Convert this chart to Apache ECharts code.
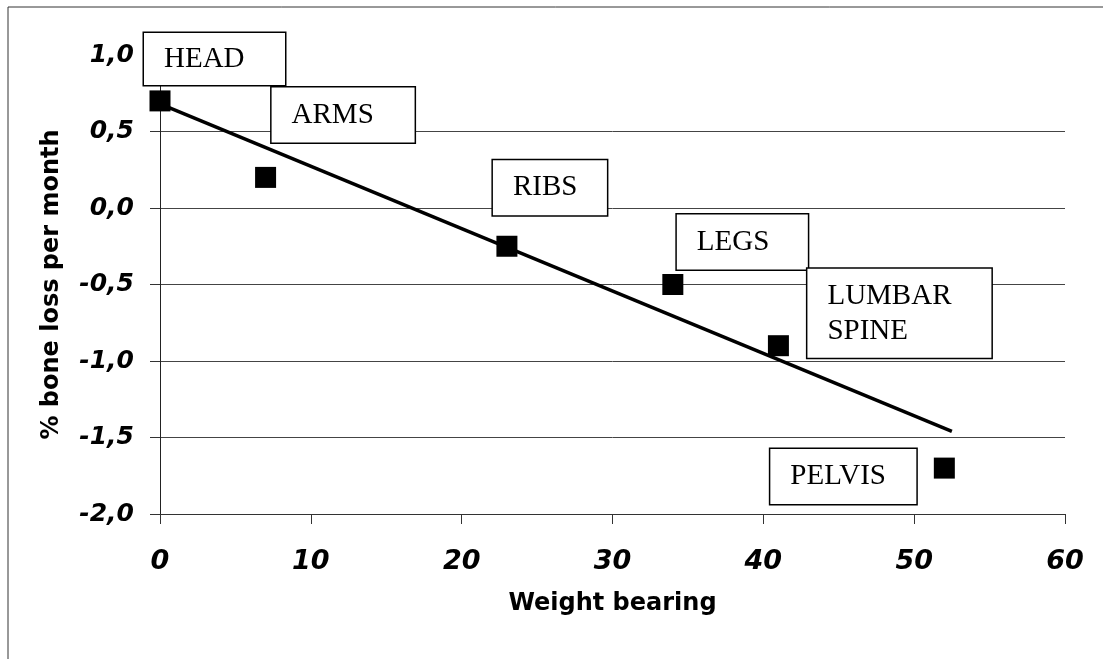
<!DOCTYPE html>
<html>
<head>
<meta charset="utf-8">
<script src="https://cdn.jsdelivr.net/npm/echarts@6/dist/echarts.min.js"></script>
<style>
html,body{margin:0;padding:0;background:#fff;}
#c{width:1103px;height:659px;}
</style>
</head>
<body>
<div id="c"></div>
<script>
// ---- data ----
var regions = ['HEAD', 'ARMS', 'RIBS', 'LEGS', 'LUMBAR\nSPINE', 'PELVIS'];
var weightBearing = [0, 7, 23, 34, 41, 52];
var boneLoss = [0.7, 0.2, -0.25, -0.5, -0.9, -1.7];
var trendX = [0, 52.5];
var trendY = [0.68, -1.46];
var xTicks = [0, 10, 20, 30, 40, 50, 60];
var yTicks = [-2.0, -1.5, -1.0, -0.5, 0.0, 0.5, 1.0];

// ---- label box layout (offset of box top-left from point centre, box size) ----
var labelBoxes = [
  {dx: -16, dy: -68, w: 141, h: 52},
  {dx: 6,   dy: -90, w: 143, h: 55},
  {dx: -14, dy: -86, w: 114, h: 55},
  {dx: 4,   dy: -70, w: 131, h: 55},
  {dx: 29,  dy: -77, w: 184, h: 89, multi: true},
  {dx: -174,dy: -19, w: 146, h: 55}
];

var SYM = 21;
var scatterData = weightBearing.map(function (x, i) {
  var b = labelBoxes[i];
  var lab = {
    show: true,
    formatter: regions[i],
    position: [b.dx + SYM / 2, b.dy + SYM / 2],
    align: 'left',
    verticalAlign: 'top',
    fontFamily: 'Liberation Serif',
    fontSize: 29,
    color: '#000',
    opacity: 1,
    backgroundColor: '#fff',
    borderColor: '#000',
    borderWidth: 1.5,
    textBorderWidth: 0,
    width: b.w - 20
  };
  if (b.multi) {
    lab.padding = [10, 0, 0, 20];
    lab.lineHeight = 35;
    lab.height = b.h - 10;
  } else {
    lab.padding = [0, 0, 0, 20];
    lab.lineHeight = b.h;
    lab.height = b.h;
  }
  return {value: [x, boneLoss[i]], label: lab};
});

var trendData = trendX.map(function (x, i) { return [x, trendY[i]]; });

var fmtY = function (v) { return v.toFixed(1).replace('.', ','); };

var chart = echarts.init(document.getElementById('c'), null, {renderer: 'canvas'});
chart.setOption({
  animation: false,
  backgroundColor: '#fff',
  grid: {left: 160, right: 38, top: 55, bottom: 145, containLabel: false},
  xAxis: {
    type: 'value',
    min: xTicks[0],
    max: xTicks[xTicks.length - 1],
    interval: 10,
    name: 'Weight bearing',
    nameLocation: 'middle',
    nameGap: 78,
    nameTextStyle: {fontFamily: 'DejaVu Sans', fontWeight: 'bold', fontSize: 24, color: '#000'},
    axisLine: {show: true, onZero: false, lineStyle: {color: '#333', width: 1}},
    axisTick: {show: true, length: 10, lineStyle: {color: '#333'}},
    axisLabel: {margin: 34, fontFamily: 'DejaVu Sans', fontWeight: 'bold', fontStyle: 'italic', fontSize: 27, color: '#000'},
    splitLine: {show: false}
  },
  yAxis: {
    type: 'value',
    min: yTicks[0],
    max: yTicks[yTicks.length - 1],
    interval: 0.5,
    name: '% bone loss per month',
    nameLocation: 'middle',
    nameGap: 96,
    nameTextStyle: {fontFamily: 'DejaVu Sans', fontWeight: 'bold', fontSize: 24, color: '#000'},
    axisLine: {show: true, onZero: false, lineStyle: {color: '#222', width: 1}},
    axisTick: {show: true, inside: false, length: 10, lineStyle: {color: '#333'}},
    axisLabel: {margin: 26, formatter: fmtY, fontFamily: 'DejaVu Sans', fontWeight: 'bold', fontStyle: 'italic', fontSize: 25, color: '#000'},
    splitLine: {show: true, lineStyle: {color: ['#444', '#444', '#444', '#444', '#444', '#444', 'rgba(0,0,0,0)'], width: 1}}
  },
  graphic: [
    {type: 'line', shape: {x1: 8, y1: 7, x2: 1103, y2: 7}, style: {stroke: '#333', lineWidth: 1}, silent: true},
    {type: 'line', shape: {x1: 8, y1: 7, x2: 8, y2: 659}, style: {stroke: '#333', lineWidth: 1}, silent: true}
  ],
  series: [
    {
      type: 'line',
      data: trendData,
      symbol: 'none',
      lineStyle: {color: '#000', width: 3.5},
      z: 2,
      silent: true
    },
    {
      type: 'scatter',
      data: scatterData,
      symbol: 'rect',
      symbolSize: SYM,
      itemStyle: {color: '#000', opacity: 1},
      z: 3,
      silent: true
    }
  ]
});
</script>
</body>
</html>
